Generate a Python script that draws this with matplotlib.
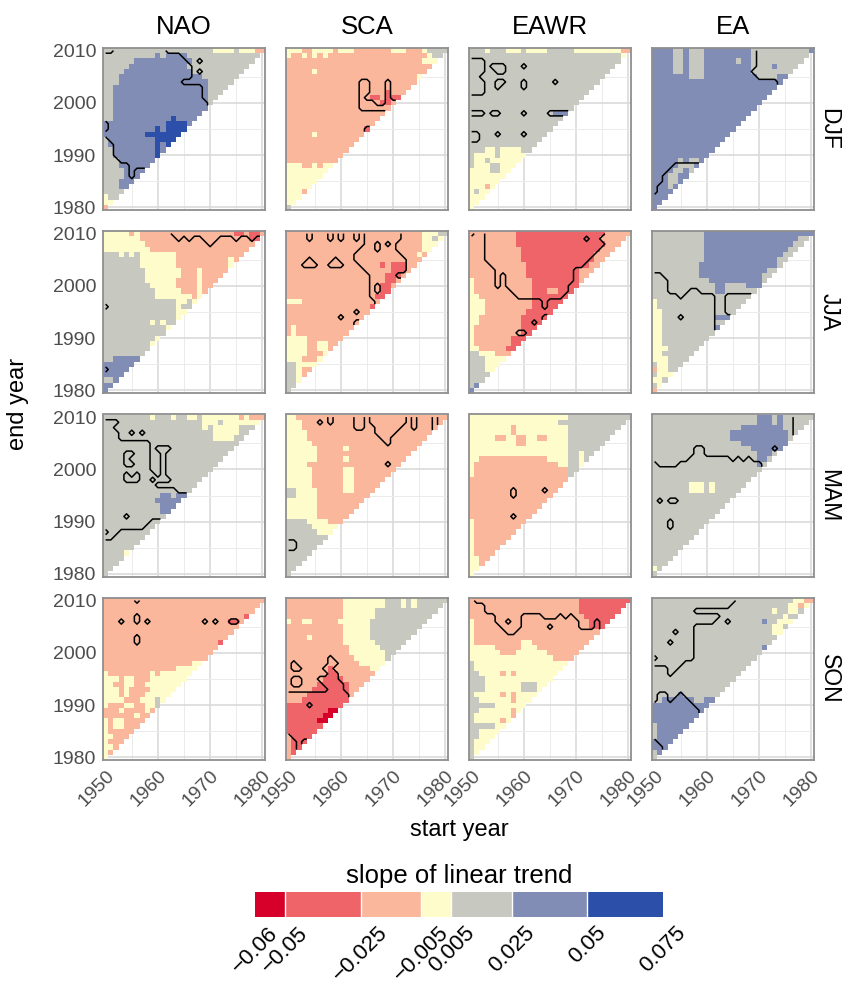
import re
import numpy as np
import matplotlib
matplotlib.use("Agg")
import matplotlib.pyplot as plt
from matplotlib.colors import ListedColormap, BoundaryNorm
import matplotlib.colorbar as mcolorbar

plt.rcParams['font.family'] = ['Liberation Sans', 'DejaVu Sans']

indices = ["NAO", "SCA", "EAWR", "EA"]
seasons = ["DJF", "JJA", "MAM", "SON"]
start_years = np.arange(1950, 1981)
end_years = np.arange(1980, 2011)

# class breaks of the trend and a representative slope for each class letter
trend_breaks = [-0.06, -0.05, -0.025, -0.005, 0.005, 0.025, 0.05, 0.075]
trend_labels = ["\u22120.06", "\u22120.05", "\u22120.025", "\u22120.005",
                "0.005", "0.025", "0.05", "0.075"]
trend_colors = ["#D6002B", "#EF6468", "#FBB79C", "#FEFCCB",
                "#C7C8BF", "#818DB5", "#2C50A9"]
class_slope = {"A": -0.055, "B": -0.0375, "C": -0.015, "D": 0.0,
               "E": 0.015, "F": 0.0375, "G": 0.0625}

# rows run from end year 2010 down to 1980, cells from start year 1950 on;
# letter = trend class, number = run length, last run fills the row.
# significance: '#' = significant, '.' = not, given per end year.
nao_djf = ["E21 D4 E D3 C", "E10 F E F4 E", "E6 F11 E", "E5 F11 E", "E4 F13 E",
           "E3 F16 E", "E3 F17 E", "E2 F18 E", "E2 F18 E", "E2 F18 E", "E2 F18 E",
           "E2 F", "E2 F", "E2 F11 G F", "F12 G4 F", "F10 G F G", "F8 G", "E F9 G",
           "E F9 G F G", "E2 F8 G F", "E2 F8 G", "E3 F", "E3 F", "E4 F", "E4 F",
           "E3 F", "E3 F", "E", "D E", "D", "C"]
nao_djf_sig = {2010: ".2 #10 .", 2009: "#15 .", 2008: "#16 .2 # .", 2007: "#17 .",
               2006: "#17 . # .", 2005: "#17 .", 2004: "#15 .", 2003: "#19 .",
               2002: "#19 .", 2001: "#19 .", 2000: "#20 .", 1999: "#", 1998: "#",
               1997: "#", 1996: ". #", 1995: ". #", 1994: "#", 1993: ". #",
               1992: ".2 #", 1991: ".2 #", 1990: ".2 #", 1989: ".3 #", 1988: ".5 #",
               1987: ".5 # .", 1986: ".5 # ."}

sca_djf = ["D3 C2 D4 C D3 C7 D3 C3 D E", "D C2 D C D C D C19 D E", "C26 D", "C",
           "C5 D C", "C25 D", "C", "C", "C19 B C", "C16 B2 C B3", "C18 B2 C", "C",
           "C", "C", "C", "C15 B", "C5 D C", "C", "C", "C", "C", "C",
           "D3 C2 D C D2", "D", "D", "D", "D", "D3 C", "D", "D", "E"]
sca_djf_sig = {2004: ".14 #2 .3 # .", 2003: ".14 #2 .3 # .", 2002: ".14 #2 .3 # .",
               2001: ".14 # .4 # .", 2000: ".14 #3 .2 #", 1999: ".14 #", 1995: ".15 #"}

eawr_djf = ["E3 D E3 D3 E D4 E5 D9 C", "E29 D", "E", "E", "E", "E", "E", "E", "E",
            "E", "E", "E", "E16 F3", "E", "E", "E", "E", "E", "E", "E3 D2 E D4 E",
            "E D4 E D", "E D2 E D", "E D3 E2 D", "D4 E2 D", "D", "D", "D3 C D",
            "D E D", "D", "D", "D"]
eawr_djf_sig = {2008: "#3 .", 2007: "#3 . #3 .3 # .", 2006: "#3 .2 #2 .", 2005: "#2 .",
                2004: "#3 .2 #2 .3 # .5 # .", 2003: "#3 .2 # .4 # .", 2002: "#3 .",
                1998: "#3 . #2 .4 # .4 #", 1994: "#2 .3 # .4 # .", 1993: "#2 ."}

ea_djf = ["F4 E2 F E3 F9 E11 F", "F4 E2 F E3 F9 E", "F4 E2 F E3 F6 E F2 E",
          "F4 E2 F E3 F9 E4 F E", "F4 E2 F E3 F9 E", "F7 E3 F10 E4 F",
          "F", "F", "F", "F", "F", "F", "F", "F", "F", "F", "F", "F", "F", "F", "F",
          "F5 E F E2 F", "F5 E3 F", "F4 E2 F E", "F3 E2 F", "F3 E2 F", "F3 E F",
          "F", "F", "F", "F"]
ea_djf_sig = {2010: ".20 #", 2009: ".20 #", 2008: ".20 #", 2007: ".20 #", 2006: ".19 #",
              2005: ".20 #", 2004: ".24 #", 1988: ".4 #", 1987: ".3 #", 1986: ".2 #",
              1985: ".2 #", 1984: ". #", 1983: ". #", 1982: "#", 1981: "#", 1980: "#"}

nao_jja = ["D5 C D C18 B2 C B2 C", "D7 C21 B2", "D8 C", "D9 C", "E3 D E D E D7 C",
           "E7 D7 C10 D C", "E7 D7 C10 D", "E8 D7 C3 D C", "E8 D7 C3 D C",
           "E8 D6 C4 D C", "E9 D5 C4 D C", "E10 D5 C3 D C", "E10 D7 C D",
           "E14 D2 E D", "E14 D E2", "E14 D2", "E14 D", "E9 D E D E", "E12 D", "E",
           "E10 D", "E9 D", "E", "E", "E2 F", "F", "F", "F", "E2 F", "F", "F"]
nao_jja_sig = {2010: ".13 #", 2009: ".14 # . # .2 #3 .3 # .2 # .", 2008: ".20 # .",
               1996: "# .", 1984: "# ."}

sca_jja = ["C26 D3 E", "C26 D2 E D", "C26 D3", "C26 D2", "C25 D C", "C",
           "C18 B C B3 C", "C20 B3 C", "C19 B3 C", "C19 B2 C", "C18 B2 C", "C18 B2",
           "C17 B2", "D3 C", "C16 B", "C", "C", "C", "C D C", "C D C", "D4 C",
           "D4 C2 D2 C", "D4 C2 D2 C", "D4 C3 D", "D3 C3 D", "E2 D", "E2 D C",
           "E2 D C", "E2 D", "E2", "E"]
sca_jja_sig = {2010: ".4 # .3 # . # .2 # . #7 .", 2009: ".4 # .3 # . # .2 # . #7 .",
               2008: ".15 #2 . # . # .", 2007: ".14 #3 . #3 .", 2006: ".13 #9 .",
               2005: ".4 # .4 # .3 #10 .", 2004: ".3 #3 .2 #3 .3 #9 .",
               2003: ".15 #8 .", 2002: ".16 #5 .", 2001: ".16 #", 2000: ".16 # . #",
               1999: ".16 # . #", 1998: ".16 #", 1997: ".17 #", 1995: ".13 # .",
               1994: ".10 # .", 1993: ".13 #"}

eawr_jja = ["C9 B17 C", "C9 B16 C", "C9 B17 C", "C10 B15 C", "C10 B14 C", "C10 B14 C",
            "C11 B12 C", "C11 B10 C", "C11 B10 C", "D C11 B9 C", "D C11 B",
            "D C11 B3 C2 B", "D2 C10 B", "D3 C9 B", "D3 C9 B", "D3 C8 B", "D2 C8 B",
            "D2 C8 B", "D C9 B", "D C9 B", "D C7 B", "D C7 B", "D2 C5 B", "E2 D3 C",
            "E3 D", "E3 D", "E3 D", "E", "E", "E F", "F"]
eawr_jja_sig = {2010: "# .2 #23 .", 2009: ".3 #19 . #2 .", 2008: ".3 #23 .",
                2007: ".3 #22 .", 2006: ".3 #21 .", 2005: ".3 #20 .", 2004: ".4 #18 .",
                2003: ".5 #15 .", 2002: ".5 # . #13 .", 2001: ".5 # . #13 .",
                2000: ".5 # . #12 .", 1999: ".8 #11 .", 1998: ".9 #9 .", 1997: ".14 # .",
                1996: ".14 # .", 1994: ".14 #", 1993: ".12 # .", 1991: ".9 #2 ."}

ea_jja = ["E10 F", "E10 F18 E", "E10 F17 E", "E10 F16 E", "E10 F15 E", "E10 F14 E",
          "E9 F15 E", "E9 F13 E", "E9 F12 E", "E11 F10 E", "E12 F2 E4 F3", "E12 F2 E",
          "E", "D E", "D E", "D2 E", "D2 E10 F3", "D2 E", "D2 E10 F", "D2 E", "D2 E",
          "D2 E", "D3 E", "D2 E", "D3 E", "E D2 E", "C D2 E", "E D3", "D2 E", "E D", "C"]
ea_jja_sig = {2010: "#", 2009: "#", 2008: "#", 2007: "#", 2006: "#", 2005: "#",
              2004: "#", 2003: "#", 2002: ".2 #", 2001: ".3 #", 2000: ".3 #",
              1999: ".3 #4 .2 #", 1998: ".5 # .6 #2 .", 1997: ".12 #2 .",
              1996: ".12 #2 .", 1995: ".12 #2 .", 1994: ".5 # .6 #", 1993: ".12 #",
              1992: ".12 #"}

nao_mam = ["E9 D E3 D E2 D2 E D7 C D C3", "E19 D3 E D", "E19 D E D5 E", "E21 D5 E",
           "E21 D4 E", "E", "E", "E", "E", "E", "E", "E", "E", "E", "E",
           "E11 F2 E F2", "E10 F", "E11 F", "E11 F", "E", "E", "E", "E", "E", "E", "E",
           "E4 D", "E", "E", "E", "E"]
nao_mam_sig = {2010: "#", 2009: ".3 #", 2008: ".2 #", 2007: ".3 #2 . # . #", 2006: ".3 #",
               2005: ".9 #", 2004: ".9 # .3 #", 2003: ".4 #2 .3 #2 . #",
               2002: ".4 # .4 #2 . #", 2001: ".4 #2 .3 #2 . #", 2000: ".9 #2 . #",
               1999: ".4 # . # .3 # . #", 1998: ".4 #3 .2 # .3 #", 1997: ".10 #",
               1996: ".14 #", 1991: ".4 # .", 1990: ".9 #", 1989: ".8 #",
               1988: "# .2 #", 1987: ".2 #", 1986: "#", 1985: "#", 1984: "#",
               1983: "#", 1982: "#", 1981: "#", 1980: "#"}

sca_mam = ["D2 C", "D3 C", "D3 C", "D4 C", "D4 C", "D5 C", "D6 C5 D C", "D6 C",
           "D6 C5 D C", "D4 C", "D5 C6 D2 C", "D5 C6 D2 C", "D5 C6 D2 C", "D5 C6 D2 C",
           "E2 D4 C5 D2 C", "E2 D4 C", "D6 C", "D6 C", "D6 C", "D6 C", "E4 D4 C",
           "E5 D", "E6 D", "E", "E", "E", "E", "E", "E", "E", "E"]
sca_mam_sig = {2010: ".8 # .4 #2 . #7 . # .3 # .",
               2009: ".6 # . # .4 #2 . #7 . # .3 # .",
               2008: ".13 #2 .2 #5 .2 # .3 #", 2007: ".17 #4 .", 2006: ".18 #2 .",
               2005: ".19 # .", 2001: ".19 # .", 1986: "#2 .", 1985: "#2 ."}

eawr_mam = ["D19 E", "D17 E", "D8 C D10 E", "D8 C D10 E", "D5 C2 D2 C2 D2 C2 D4 E",
            "D9 C2 D8 E", "D19 E", "D19 E2 D E", "D2 C13 D4 E2 D E", "D C16 D2 E2 D",
            "D C18 E", "D C18 E", "C", "C", "C", "C", "C", "C", "C", "C",
            "D C", "D C", "D C", "D C", "D C", "D C", "D C", "D2 C", "D2 C", "D", "D"]
eawr_mam_sig = {1996: ".8 # .5 # .", 1995: ".8 # .", 1991: ".8 # ."}

ea_mam = ["E20 F3 E F E", "E20 F3 E F E", "E17 F8 E", "E15 F11 E", "E15 F11 E",
          "E17 F", "E19 F", "E20 F3 E", "E20 F2 E", "E20 F E", "E", "E", "E",
          "E7 D3 E D E", "E7 D3 E D E", "E", "E", "E", "E", "E", "E", "E", "E", "E",
          "E", "E", "E", "E", "E", "D E", "E"]
ea_mam_sig = {2010: "#27 .", 2009: "#27 .", 2008: "#27 .", 2007: "#27 .", 2006: "#",
              2005: "#", 2004: "#8 .2 #13 . #", 2003: "#8 .2 #",
              2002: "#7 .8 # . # . #", 2001: ". #4 .16 #", 1994: ". # . #2 .",
              1990: ".3 # .", 1989: ".3 # ."}

nao_son = ["C", "C", "C", "C27 B", "C24 B2 C", "C", "C", "C", "C22 B", "C", "C", "C",
           "C17 D", "C14 D", "D C8 D C D", "D3 C D2 C3 D", "D2 C2 D2 C2 D",
           "D3 C D C4 D", "D3 C D C3 D", "D4 C3 D3 E D", "D C3 D2 C2 D2 E",
           "C3 D C4 D C", "C6 D C2", "D C D2 C4", "D C D2 C3", "D C5", "D2 C3",
           "D C3", "D2 C", "D C", "D"]
nao_son_sig = {2010: ".6 # .", 2007: ".6 # .",
               2006: ".3 # .2 # . # .10 # . # .2 #2 .", 2003: ".6 # .", 2002: ".6 # ."}

sca_son = ["C11 D8 E3 D E D E", "C11 D8 E3 D E D E", "C11 D6 E", "C11 D6 E",
           "D C2 D2 C5 D6 E", "C11 D5 E", "C11 D5 E", "C4 D C6 D5 E", "C11 D6 E",
           "C12 D6 E", "C12 D7 E", "C13 D6 E", "C14 D", "C8 B C7 D", "C8 B2 C",
           "C7 B4 C", "C6 B6 C", "C5 B7 C", "C4 B8 C", "C3 B", "B", "B8 A2", "B7 A2",
           "B6 A2", "B", "B", "C B", "C B", "C B", "C B", "C"]
sca_son_sig = {1999: ".8 # .", 1998: ". # .6 #2 .", 1997: ". #2 .4 #2 .",
               1996: ".8 #2 .", 1995: ". #2 .3 #4 .", 1994: ". #2 .4 #4 .",
               1993: ".8 #3 .", 1992: "#12 .", 1991: "#", 1990: "#4 . #", 1989: "#",
               1988: "#", 1987: "#", 1986: "#", 1985: "#", 1984: ". #", 1983: ".2 # .",
               1982: ".2 #"}

eawr_son = ["C21 B", "C21 B", "C21 B", "C22 B", "D C22 B", "D C22 B", "D C", "D C",
            "D C9 D2 C", "D5 C5 D3 C", "D6 C3 D6 C", "D16 C", "E D", "E D",
            "E2 D4 C D C D", "E3 D", "E3 D7 E3 D", "E3 D7 E3 D", "E D5 C D C D",
            "E2 D6 C D", "E5 D", "E2 D6 C D", "E D7 C", "E D5 C D", "E5 D", "E2 D",
            "E2 D", "E D", "E D", "E D", "E"]
eawr_son_sig = {2010: ". #", 2009: ".3 #", 2008: ".3 #", 2007: ".5 #5 .4 #3 . # . #",
                2006: ".5 #2 . #2 .11 #3 . #", 2005: ".6 #4 .5 # .5 #3 . #",
                2004: ".7 #2 ."}

ea_son = ["E27 D2 C2", "E26 D2 C D", "E23 D E2 D2 E", "E25 D E", "E21 F E2 D3",
          "E23 D2 E", "E23 D2", "E", "E", "E21 F", "E", "E", "E", "E", "E", "E", "E",
          "E", "E5 F E", "E2 F6 E2 F2", "F", "F", "F", "F", "E F", "E F", "E F",
          "F", "F", "E F", "E"]
ea_son_sig = {2010: "#16 .", 2009: "#15 .", 2008: "#8 .", 2007: "#13 .",
              2006: "#12 .2 # .", 2005: "#8 .", 2004: "#4 . #3 .", 2003: "#8 .",
              2002: "#3 . #4 .", 2001: "#8 .", 2000: "#8 .", 1999: ". #7 .",
              1998: "#6 .", 1997: ".3 #2 .", 1996: ".3 # .", 1992: ". #2 .2 # .",
              1991: ". #2 . #3 .", 1990: "#8 .", 1989: "#9 .", 1988: "#", 1987: "#",
              1986: "#", 1985: "#", 1984: "#", 1983: ". #", 1982: ".2 #"}

panels = {
    ("NAO", "DJF"): (nao_djf, nao_djf_sig), ("SCA", "DJF"): (sca_djf, sca_djf_sig),
    ("EAWR", "DJF"): (eawr_djf, eawr_djf_sig), ("EA", "DJF"): (ea_djf, ea_djf_sig),
    ("NAO", "JJA"): (nao_jja, nao_jja_sig), ("SCA", "JJA"): (sca_jja, sca_jja_sig),
    ("EAWR", "JJA"): (eawr_jja, eawr_jja_sig), ("EA", "JJA"): (ea_jja, ea_jja_sig),
    ("NAO", "MAM"): (nao_mam, nao_mam_sig), ("SCA", "MAM"): (sca_mam, sca_mam_sig),
    ("EAWR", "MAM"): (eawr_mam, eawr_mam_sig), ("EA", "MAM"): (ea_mam, ea_mam_sig),
    ("NAO", "SON"): (nao_son, nao_son_sig), ("SCA", "SON"): (sca_son, sca_son_sig),
    ("EAWR", "SON"): (eawr_son, eawr_son_sig), ("EA", "SON"): (ea_son, ea_son_sig),
}


def expand(row, n):
    cells = []
    for ch, count in re.findall(r"([A-G#.])(\d*)", row):
        cells += [ch] * (int(count) if count else 1)
    if not cells:
        cells = ["."]
    cells += [cells[-1]] * n
    return cells[:n]


def panel_grid(rows, sig):
    slope = np.full((len(end_years), len(start_years)), np.nan)
    signif = np.full_like(slope, np.nan)
    for k, row in enumerate(rows):
        e = 2010 - k
        n = e - 1979
        slope[e - 1980, :n] = [class_slope[c] for c in expand(row, n)]
        signif[e - 1980, :n] = [1.0 if c == "#" else 0.0
                                for c in expand(sig.get(e, ""), n)]
    return slope, signif


cmap = ListedColormap(trend_colors)
norm = BoundaryNorm(trend_breaks, cmap.N)

W, H = 849, 984
fig = plt.figure(figsize=(W / 100, H / 100), dpi=100)
panel_left = [103, 286, 469, 652]
panel_top = [48, 231, 414.5, 598]
size = 162
x_edges = np.arange(1949.5, 1981)
y_edges = np.arange(1979.5, 2011)

for r, season in enumerate(seasons):
    for c, index in enumerate(indices):
        ax = fig.add_axes([panel_left[c] / W, 1 - (panel_top[r] + size) / H,
                           size / W, size / H])
        slope, signif = panel_grid(*panels[(index, season)])
        ax.pcolormesh(x_edges, y_edges, np.ma.masked_invalid(slope),
                      cmap=cmap, norm=norm, shading="flat")
        ax.contour(start_years, end_years, np.ma.masked_invalid(signif),
                   levels=[0.5], colors="black", linewidths=1.1)
        ax.set_xlim(1949.5, 1980.5)
        ax.set_ylim(1979.5, 2010.5)
        ax.set_xticks([1950, 1960, 1970, 1980])
        ax.set_xticks([1955, 1965, 1975], minor=True)
        ax.set_yticks([1980, 1990, 2000, 2010])
        ax.set_yticks([1985, 1995, 2005], minor=True)
        ax.grid(which="major", color="#DADADA", linewidth=1.2)
        ax.grid(which="minor", color="#EBEBEB", linewidth=0.7)
        ax.set_axisbelow(True)
        ax.tick_params(which="both", length=0, labelsize=14,
                       labelcolor="#4D4D4D", pad=5)
        for sp in ax.spines.values():
            sp.set_color("#8F8F8F")
            sp.set_linewidth(1.3)
        if c > 0:
            ax.set_yticklabels([])
        if r < 3:
            ax.set_xticklabels([])
        else:
            for lbl in ax.get_xticklabels():
                lbl.set_rotation(45)
                lbl.set_ha("right")
                lbl.set_va("top")
                lbl.set_rotation_mode("anchor")
        if r == 0:
            fig.text((panel_left[c] + size / 2) / W, 1 - 27 / H, index,
                     ha="center", va="center", fontsize=18.5)
    fig.text(829 / W, 1 - (panel_top[r] + size / 2) / H, season, rotation=-90,
             ha="center", va="center", fontsize=16.5)

fig.text(459 / W, 1 - 830 / H, "start year", ha="center", va="center", fontsize=17)
fig.text(18 / W, 1 - 404 / H, "end year", rotation=90, ha="center", va="center",
         fontsize=17)

# legend
fig.text(459 / W, 1 - 876 / H, "slope of linear trend", ha="center", va="center",
         fontsize=18.5)
cax = fig.add_axes([255 / W, 1 - 917 / H, 408 / W, 25 / H])
cb = mcolorbar.ColorbarBase(cax, cmap=cmap, norm=norm, boundaries=trend_breaks,
                            spacing="proportional", orientation="horizontal",
                            ticks=trend_breaks)
cb.outline.set_visible(False)
cb.set_ticklabels(trend_labels)
for b in trend_breaks[1:-1]:
    cax.axvline(b, color="white", linewidth=1.0)
cax.tick_params(length=0, labelsize=16, pad=4)
for lbl in cax.get_xticklabels():
    lbl.set_rotation(45)
    lbl.set_ha("center")
    lbl.set_va("top")

fig.savefig("out.png", dpi=100)
